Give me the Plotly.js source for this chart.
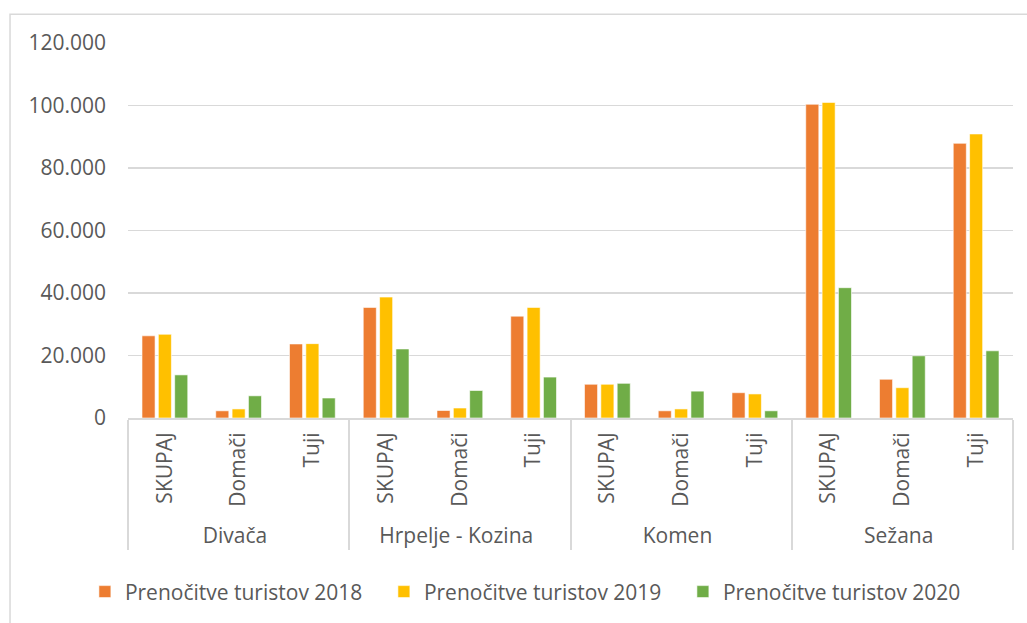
<!DOCTYPE html>
<html>
<head>
<meta charset="utf-8">
<script src="https://cdn.plot.ly/plotly-3.0.1.min.js"></script>
<style>
html,body{margin:0;padding:0;background:#fff;}
#chart{width:1027px;height:623px;}
</style>
</head>
<body>
<div id="chart"></div>
<script>
const municipalities = ["Divača","Divača","Divača","Hrpelje - Kozina","Hrpelje - Kozina","Hrpelje - Kozina","Komen","Komen","Komen","Sežana","Sežana","Sežana"];
const subcategories = ["SKUPAJ","Domači","Tuji","SKUPAJ","Domači","Tuji","SKUPAJ","Domači","Tuji","SKUPAJ","Domači","Tuji"];
const seriesNames = ["Prenočitve turistov 2018","Prenočitve turistov 2019","Prenočitve turistov 2020"];
const values2018 = [26300, 2300, 23700, 35400, 2400, 32600, 10800, 2300, 8100, 100400, 12400, 87900];
const values2019 = [26800, 2900, 23800, 38700, 3200, 35400, 10800, 2900, 7700, 101000, 9700, 90900];
const values2020 = [13800, 7100, 6400, 22100, 8800, 13100, 11100, 8600, 2300, 41700, 19900, 21500];
const yTicks = [0, 20000, 40000, 60000, 80000, 100000, 120000];

const colors = ["#ED7D31", "#FFC000", "#70AD47"];
const allValues = [values2018, values2019, values2020];

const traces = allValues.map((v, i) => ({
  type: "bar",
  name: seriesNames[i],
  x: [municipalities, subcategories],
  y: v,
  marker: {color: colors[i], line: {color: "rgba(255,255,255,0.6)", width: 1}},
  hoverinfo: "y"
}));

const fontFam = "'Open Sans', 'Noto Sans', sans-serif";
const fs = 21;
const layout = {
  width: 1027,
  height: 623,
  margin: {l: 128, r: 14, t: 43, b: 203.5},
  paper_bgcolor: "#ffffff",
  plot_bgcolor: "#ffffff",
  separators: ",.",
  font: {family: fontFam, size: fs, color: "#595959"},
  barmode: "group",
  bargap: 0.335,
  bargroupgap: 0.2,
  showlegend: true,
  legend: {
    orientation: "h",
    x: -0.0487, xanchor: "left",
    y: -0.46, yanchor: "middle",
    font: {family: fontFam, size: fs, color: "#595959"},
    itemwidth: 30,
    entrywidth: 254,
    traceorder: "normal"
  },
  xaxis: {
    type: "multicategory",
    tickangle: -90,
    showline: true,
    linecolor: "#D9D9D9",
    linewidth: 2,
    showgrid: false,
    showdividers: true,
    dividercolor: "#D9D9D9",
    dividerwidth: 2,
    ticks: "",
    ticklabelstandoff: 4,
    tickfont: {family: fontFam, size: fs, color: "#595959"}
  },
  yaxis: {
    range: [0, 120000],
    tickvals: yTicks,
    tickformat: ",d",
    showgrid: true,
    gridcolor: "#D9D9D9",
    gridwidth: 1.5,
    zeroline: false,
    showline: false,
    ticks: "",
    ticklabelstandoff: 21,
    tickfont: {family: fontFam, size: fs, color: "#595959"}
  },
  shapes: [{
    type: "rect", xref: "paper", yref: "paper",
    x0: -0.1333, x1: 1.02, y0: -0.56, y1: 1.077,
    line: {color: "#D9D9D9", width: 1.5},
    fillcolor: "rgba(0,0,0,0)", layer: "below"
  }]
};

Plotly.newPlot("chart", traces, layout, {displayModeBar: false, staticPlot: true});
</script>
</body>
</html>
